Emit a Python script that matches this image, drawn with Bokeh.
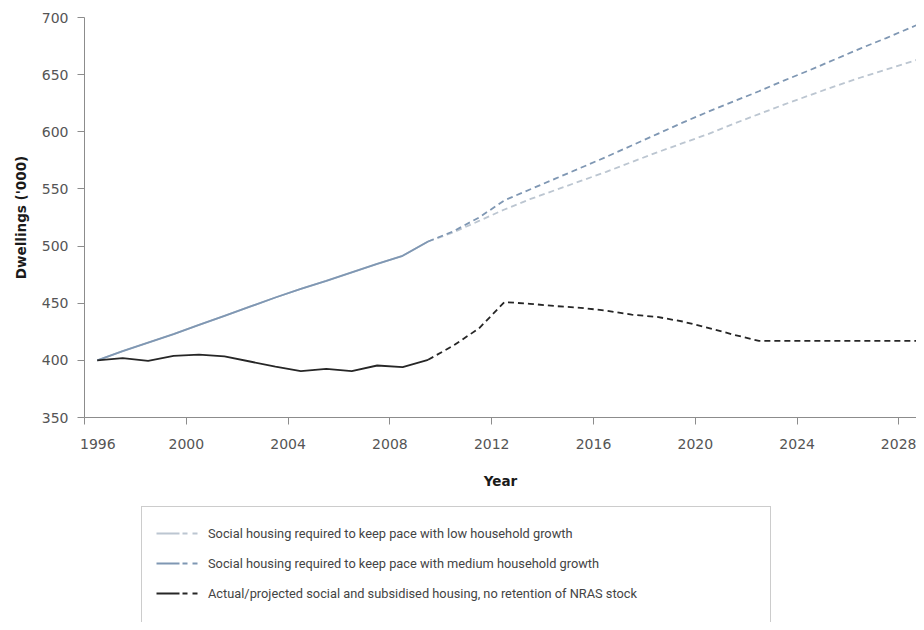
from bokeh.plotting import figure
from bokeh.models import Range1d, FixedTicker, Legend, LegendItem, ColumnDataSource
from bokeh.layouts import column
from bokeh.embed import file_html
from bokeh.resources import INLINE

# ---- data ----
years_hist = [1996.5, 1997.5, 1998.5, 1999.5, 2000.5, 2001.5, 2002.5,
              2003.5, 2004.5, 2005.5, 2006.5, 2007.5, 2008.5, 2009.5]
years_proj = [2009.5, 2010.5, 2011.5, 2012.5, 2013.5, 2014.5, 2015.5, 2016.5,
              2017.5, 2018.5, 2019.5, 2020.5, 2021.5, 2022.5, 2023.5, 2024.5,
              2025.5, 2026.5, 2027.5, 2028.5, 2029.5]

low_hist = [400, 408, 415.5, 423, 431, 439, 447, 455, 462.5, 469.5, 477, 484.5, 491.5, 504]
medium_hist = [400, 408, 415.5, 423, 431, 439, 447, 455, 462.5, 469.5, 477, 484.5, 491.5, 504]
actual_hist = [400, 402, 399.5, 404, 405, 403.5, 399, 394.5, 390.5, 392.5, 390.5, 395.5, 394, 400.5]

low_proj = [504, 512, 522, 532, 541, 549, 557, 565, 573.5, 582, 590, 598, 607,
            615.5, 624, 632, 640, 647.5, 654.5, 661.5, 668.5]
medium_proj = [504, 513, 525, 540, 549.5, 559, 568.5, 578, 588, 598, 608, 617.5,
               626.5, 635.5, 645, 654, 663.5, 673, 682, 691.5, 701]
actual_proj = [400.5, 413, 428, 451, 449.5, 447.5, 446, 443.5, 440, 438, 434,
               428.5, 422.5, 417, 417, 417, 417, 417, 417, 417, 417]

x_ticks = [1996, 2000, 2004, 2008, 2012, 2016, 2020, 2024, 2028]
y_ticks = [350, 400, 450, 500, 550, 600, 650, 700]

labels = ["Social housing required to keep pace with low household growth",
          "Social housing required to keep pace with medium household growth",
          "Actual/projected social and subsidised housing, no retention of NRAS stock"]

# ---- styles ----
LOW_C = "#bcc6d1"
MED_C = "#7f97b3"
ACT_C = "#262626"
AX_C = "#8c8c8c"
TICK_FONT = "DejaVu Sans"
W = 916

p = figure(width=W, height=505, output_backend="svg", toolbar_location=None,
           x_range=Range1d(1996, 2028.69), y_range=Range1d(350, 700),
           min_border_left=84, min_border_right=0, min_border_top=17,
           min_border_bottom=88)
p.outline_line_color = None
p.grid.visible = False
p.background_fill_color = "white"
p.border_fill_color = "white"

p.line(years_hist, low_hist, line_color=LOW_C, line_width=1.8)
p.line(years_hist, medium_hist, line_color=MED_C, line_width=1.8)
p.line(years_hist, actual_hist, line_color=ACT_C, line_width=1.8)
p.line(years_proj, low_proj, line_color=LOW_C, line_width=1.8, line_dash="6 4")
p.line(years_proj, medium_proj, line_color=MED_C, line_width=1.8, line_dash="6 4")
p.line(years_proj, actual_proj, line_color=ACT_C, line_width=1.8, line_dash="6 4")

for ax in (p.xaxis[0], p.yaxis[0]):
    ax.axis_line_color = AX_C
    ax.major_tick_line_color = AX_C
    ax.minor_tick_line_color = None
    ax.major_tick_in = 0
    ax.major_tick_out = 7
    ax.major_label_text_font = TICK_FONT
    ax.major_label_text_font_size = "14px"
    ax.major_label_text_color = "#555555"
    ax.axis_label_text_font = TICK_FONT
    ax.axis_label_text_font_style = "bold"
    ax.axis_label_text_font_size = "13.5px"
    ax.axis_label_text_color = "#1a1a1a"

p.xaxis.ticker = FixedTicker(ticks=x_ticks)
p.yaxis.ticker = FixedTicker(ticks=y_ticks)
# first year label sits to the right of its tick in the original
p.xaxis.major_label_overrides = {x_ticks[0]: "\u2007\u2007\u2007" + str(x_ticks[0])}
p.xaxis.axis_label = "Year"
p.yaxis.axis_label = "Dwellings ('000)"
p.xaxis.major_label_standoff = 11
p.xaxis.axis_label_standoff = 18
p.yaxis.major_label_standoff = 9
p.yaxis.axis_label_standoff = 10

# ---- legend panel (separate figure below the chart) ----
lg = figure(width=W, height=117, output_backend="svg", toolbar_location=None,
            x_range=Range1d(0, 1), y_range=Range1d(0, 1),
            x_axis_type=None, y_axis_type=None,
            min_border_left=0, min_border_right=0, min_border_top=0,
            min_border_bottom=0)
lg.outline_line_color = None
lg.grid.visible = False

nan = float("nan")
def placeholder(**kw):
    return lg.line("x", "y", source=ColumnDataSource(dict(x=[nan], y=[nan])), **kw)

leg_dash = "23 3 5 5 5 30"
r_low = placeholder(line_color=LOW_C, line_width=1.8, line_dash=leg_dash)
r_med = placeholder(line_color=MED_C, line_width=1.8, line_dash=leg_dash)
r_act = placeholder(line_color=ACT_C, line_width=1.8, line_dash=leg_dash)
r_pad = placeholder(line_alpha=0)

legend = Legend(items=[LegendItem(label=labels[0], renderers=[r_low]),
                       LegendItem(label=labels[1], renderers=[r_med]),
                       LegendItem(label=labels[2], renderers=[r_act]),
                       LegendItem(label=" ", renderers=[r_pad])],
                location=(57, -28), orientation="vertical",
                glyph_width=43, glyph_height=24, label_height=24, spacing=6,
                padding=14, margin=0, label_standoff=9, label_width=548,
                label_text_font="Roboto",
                label_text_font_size="12.8px", label_text_color="#444444",
                border_line_color="#9a9a9a", border_line_width=1,
                background_fill_color="white", background_fill_alpha=1)
lg.add_layout(legend, "center")

layout = column(p, lg, spacing=0)
open("out.html", "w").write(file_html(layout, INLINE))
